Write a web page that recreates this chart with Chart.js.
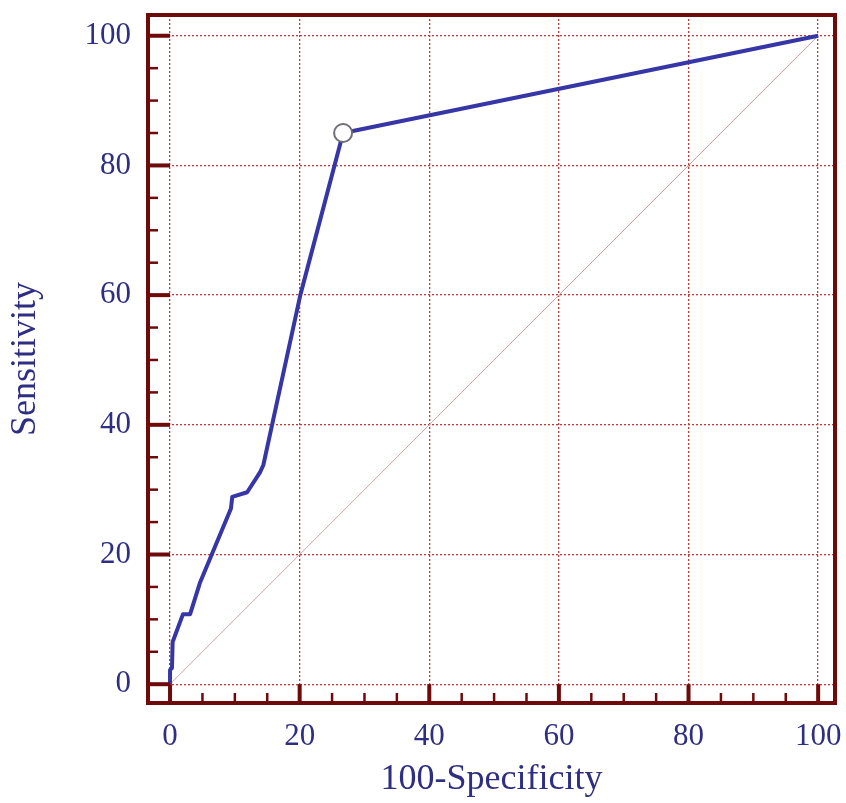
<!DOCTYPE html>
<html>
<head>
<meta charset="utf-8">
<script src="https://cdn.jsdelivr.net/npm/chart.js@4/dist/chart.umd.min.js"></script>
<style>
  body { margin: 0; background: #fff; }
  canvas { display: block; }
</style>
</head>
<body>
<canvas id="roc" width="846" height="803"></canvas>
<script>
// ROC curve values
const fprValues  = [0, 0, 0.3, 0.4, 2.0, 3.1, 4.6, 9.4, 9.6, 11.9, 13.9, 14.4, 20.1, 26.7, 100];
const sensValues = [0, 2.2, 2.5, 6.5, 10.8, 10.8, 15.6, 27.1, 28.9, 29.6, 32.7, 33.8, 60, 85.0, 100];

// optimal cut-off point (open circle)
const cutoffFpr = [26.7];
const cutoffSens = [85.0];

// reference diagonal
const diagFpr = [0, 100];
const diagSens = [0, 100];

const tickValues = [0, 20, 40, 60, 80, 100];
const minorTickValues = [5, 10, 15, 25, 30, 35, 45, 50, 55, 65, 70, 75, 85, 90, 95];

const navy = "#2e2e82";
const frameRed = "#6e0a0a";
const gridRed = "#c23a3a";
const serif = "'Liberation Serif', 'Times New Roman', serif";

const toPoints = (xs, ys) => xs.map((x, i) => ({ x: x, y: ys[i] }));

// Frame plus major/minor tick marks, drawn inside the plot box
const framePlugin = {
    id: "frame",
    afterDraw(chart) {
        const { ctx, chartArea } = chart;
        const xs = chart.scales.x;
        const ys = chart.scales.y;
        const x0 = xs.getPixelForValue(0);
        const y0 = ys.getPixelForValue(0);
        ctx.save();
        ctx.strokeStyle = frameRed;

        // minor ticks
        ctx.lineWidth = 2.5;
        minorTickValues.forEach(v => {
            const px = xs.getPixelForValue(v);
            ctx.beginPath();
            ctx.moveTo(px, chartArea.bottom);
            ctx.lineTo(px, chartArea.bottom - 10);
            ctx.stroke();
            const py = ys.getPixelForValue(v);
            ctx.beginPath();
            ctx.moveTo(chartArea.left, py);
            ctx.lineTo(chartArea.left + 10, py);
            ctx.stroke();
        });

        // major ticks reach to the zero lines
        ctx.lineWidth = 4;
        tickValues.forEach(v => {
            const px = xs.getPixelForValue(v);
            ctx.beginPath();
            ctx.moveTo(px, chartArea.bottom);
            ctx.lineTo(px, y0);
            ctx.stroke();
            const py = ys.getPixelForValue(v);
            ctx.beginPath();
            ctx.moveTo(chartArea.left, py);
            ctx.lineTo(x0, py);
            ctx.stroke();
        });

        // outer frame
        ctx.lineWidth = 4;
        ctx.strokeRect(chartArea.left, chartArea.top,
            chartArea.right - chartArea.left, chartArea.bottom - chartArea.top);
        ctx.restore();
    }
};

// labels sit well inside the range, so the scales need no extra edge padding
const noEdgePadding = scale => {
    scale.paddingTop = 0;
    scale.paddingBottom = 0;
    scale.paddingLeft = 0;
    scale.paddingRight = 0;
};

const axisCommon = (title, min, max) => ({
    type: "linear",
    min: min,
    max: max,
    afterBuildTicks: scale => {
        scale.ticks = tickValues.map(v => ({ value: v }));
    },
    grid: {
        color: gridRed,
        lineWidth: 1.3,
        drawTicks: false
    },
    border: { display: false, dash: [2, 2] },
    ticks: {
        color: navy,
        font: { family: serif, size: 31 },
        padding: 17,
        callback: v => v
    },
    title: {
        display: true,
        text: title,
        color: navy,
        font: { family: serif, size: 36 }
    }
});

const xAxis = axisCommon("100-Specificity", -3.4, 102.6);
xAxis.ticks.padding = 15;
xAxis.title.padding = { top: 0, bottom: 2 };
xAxis.afterFit = scale => { scale.height = 100; noEdgePadding(scale); };

const yAxis = axisCommon("Sensitivity", -2.9, 103.2);
yAxis.title.padding = { top: 4, bottom: 0 };
yAxis.afterFit = scale => { scale.width = 148; noEdgePadding(scale); };

new Chart(document.getElementById("roc"), {
    type: "scatter",
    data: {
        datasets: [
            {
                data: toPoints(diagFpr, diagSens),
                order: 2,
                showLine: true,
                borderColor: "#c9a3a3",
                borderWidth: 1,
                pointRadius: 0
            },
            {
                data: toPoints(fprValues, sensValues),
                order: 1,
                showLine: true,
                borderColor: "#3636a6",
                borderWidth: 4,
                borderJoinStyle: "round",
                pointRadius: 0
            },
            {
                data: toPoints(cutoffFpr, cutoffSens),
                order: 0,
                pointRadius: 9,
                pointBackgroundColor: "#ffffff",
                pointBorderColor: "#6f6f78",
                pointBorderWidth: 2
            }
        ]
    },
    options: {
        responsive: false,
        animation: false,
        devicePixelRatio: 1,
        layout: { padding: { top: 15, right: 11, left: 0, bottom: 0 } },
        plugins: {
            legend: { display: false },
            tooltip: { enabled: false }
        },
        scales: { x: xAxis, y: yAxis }
    },
    plugins: [framePlugin]
});
</script>
</body>
</html>
